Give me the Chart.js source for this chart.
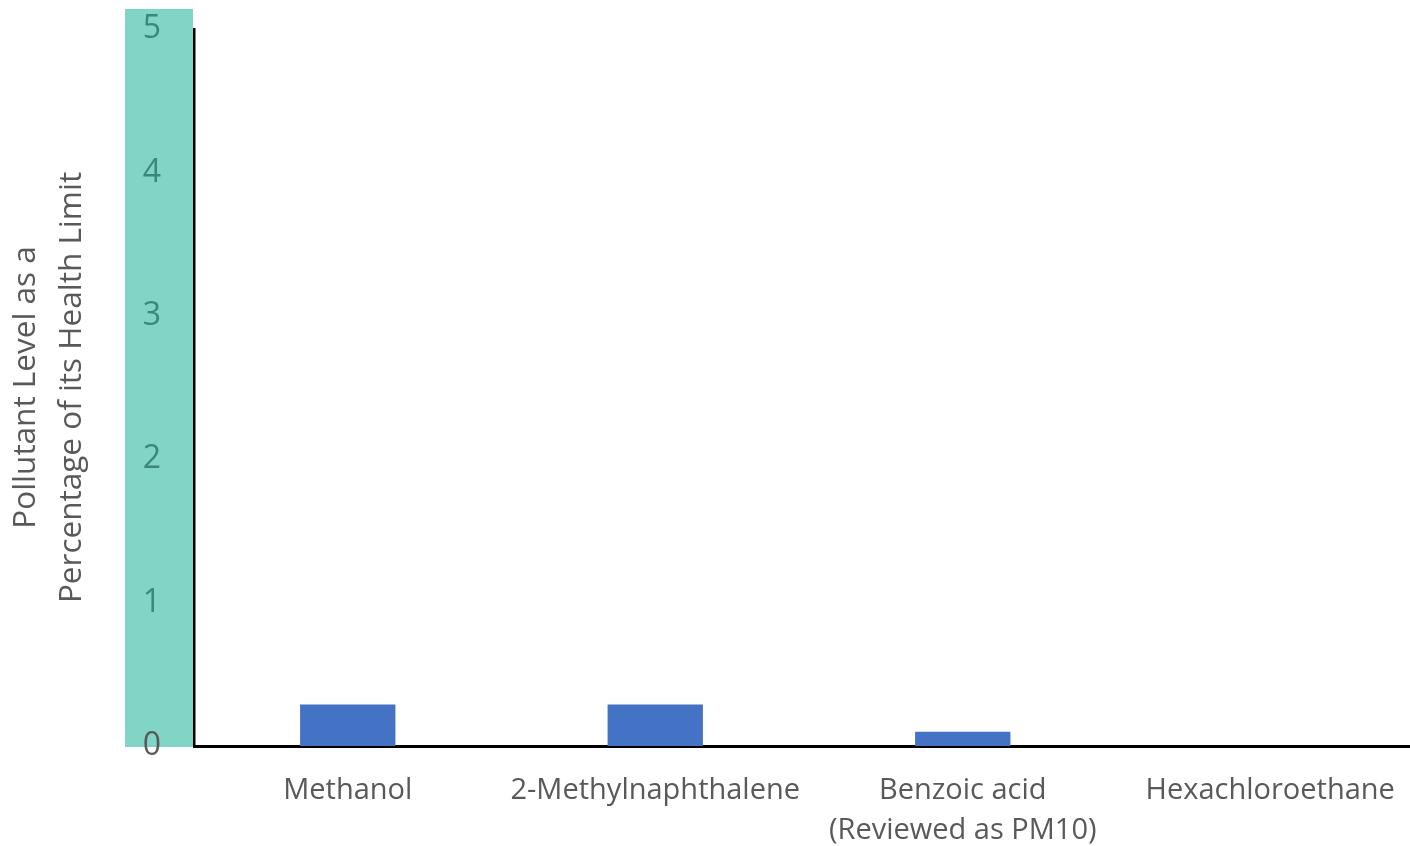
<!DOCTYPE html>
<html>
<head>
<meta charset="utf-8">
<script src="https://cdn.jsdelivr.net/npm/chart.js@4.4.1/dist/chart.umd.min.js"></script>
<style>
  html, body { margin: 0; padding: 0; background: #ffffff; overflow: hidden; }
  #wrap { position: relative; width: 1426px; height: 846px; }
</style>
</head>
<body>
<div id="wrap"><canvas id="c"></canvas></div>
<script>
const categories = ['Methanol', '2-Methylnaphthalene', ['Benzoic acid', '(Reviewed as PM10)'], 'Hexachloroethane'];
const values = [0.29, 0.29, 0.1, 0];
const yTitle = ['Pollutant Level as a', 'Percentage of its Health Limit'];
const yMin = 0, yMax = 5, yStep = 1;

const FONT = "'Open Sans', sans-serif";

const bandPlugin = {
  id: 'band',
  beforeDraw(chart) {
    const { ctx, chartArea } = chart;
    ctx.save();
    ctx.fillStyle = '#80d5c6';
    ctx.fillRect(chartArea.left - 69, chartArea.top - 20, 68, chartArea.bottom - chartArea.top + 21);
    ctx.restore();
  }
};

new Chart(document.getElementById('c'), {
  type: 'bar',
  data: {
    labels: categories,
    datasets: [{
      data: values,
      backgroundColor: '#4472c4',
      borderWidth: 0,
      barPercentage: 0.31,
      categoryPercentage: 1.0
    }]
  },
  plugins: [bandPlugin],
  options: {
    responsive: true,
    maintainAspectRatio: false,
    animation: false,
    layout: { padding: { top: 29, right: 2, bottom: 0, left: 0 } },
    plugins: { legend: { display: false }, tooltip: { enabled: false } },
    scales: {
      x: {
        grid: { display: false, drawTicks: false },
        border: { display: true, color: '#000000', width: 3 },
        ticks: {
          color: '#595959',
          font: { family: FONT, size: 29, lineHeight: 1.38 },
          padding: 25,
          maxRotation: 0,
          autoSkip: false
        },
        afterFit(scale) { scale.height = 100; scale.paddingTop = 0; scale.paddingBottom = 0; }
      },
      y: {
        min: yMin, max: yMax,
        grid: { display: false, drawTicks: false },
        border: { display: true, color: '#000000', width: 2.5 },
        ticks: {
          stepSize: yStep,
          color: (c) => (c.tick && c.tick.value === 0) ? '#595959' : '#3a8878',
          font: { family: FONT, size: 32 },
          padding: 33
        },
        title: {
          display: true,
          text: yTitle,
          color: '#595959',
          font: { family: FONT, size: 31.5, lineHeight: 1.43 },
          padding: { top: 4, bottom: 0 }
        },
        afterFit(scale) { scale.width = 194; scale.paddingTop = 0; scale.paddingBottom = 0; }
      }
    }
  }
});
</script>
</body>
</html>
